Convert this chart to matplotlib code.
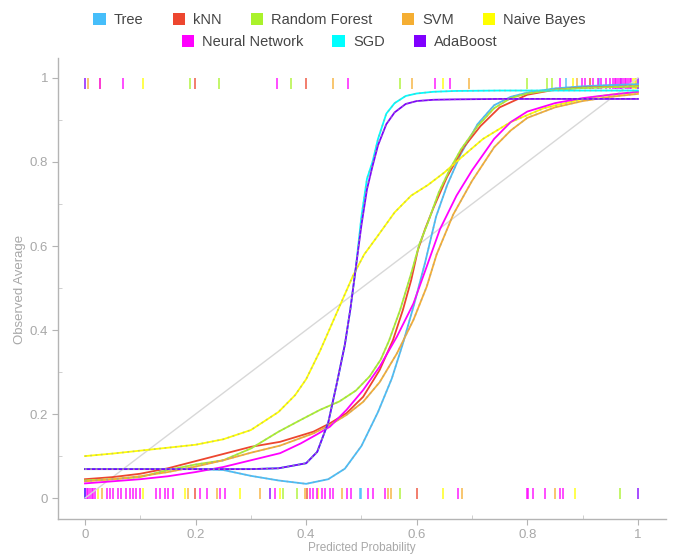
import matplotlib.pyplot as plt
from matplotlib.patches import Patch

plt.rcParams['font.family'] = ['Liberation Sans', 'DejaVu Sans']

# model names and colours
models = ['Tree', 'kNN', 'Random Forest', 'SVM', 'Naive Bayes',
          'Neural Network', 'SGD', 'AdaBoost']
colors = {
    'Tree': '#46befa',
    'kNN': '#ed462f',
    'Random Forest': '#aaf22b',
    'SVM': '#f5ae32',
    'Naive Bayes': '#ffff00',
    'Neural Network': '#ff00ff',
    'SGD': '#00ffff',
    'AdaBoost': '#8000ff',
}

# calibration curves (predicted probability -> observed average)
tree_x = [0, 0.05, 0.1, 0.15, 0.2, 0.25, 0.3, 0.35, 0.4, 0.44, 0.47, 0.5, 0.53, 0.555,
          0.575, 0.595, 0.615, 0.635, 0.655, 0.68, 0.71, 0.74, 0.77, 0.8, 0.85, 0.9, 0.95, 1.0]
tree_y = [0.069, 0.069, 0.069, 0.069, 0.069, 0.067, 0.053, 0.042, 0.034, 0.045, 0.07, 0.124,
          0.205, 0.285, 0.368, 0.46, 0.56, 0.67, 0.745, 0.82, 0.89, 0.935, 0.955, 0.965,
          0.975, 0.98, 0.983, 0.985]

knn_x = [0, 0.05, 0.1, 0.15, 0.2, 0.25, 0.3, 0.353, 0.413, 0.443, 0.473, 0.503, 0.533,
         0.557, 0.575, 0.59, 0.602, 0.615, 0.63, 0.655, 0.685, 0.715, 0.75, 0.8, 0.85, 0.9, 1.0]
knn_y = [0.045, 0.05, 0.058, 0.071, 0.088, 0.105, 0.122, 0.134, 0.158, 0.178, 0.202, 0.241,
         0.305, 0.376, 0.448, 0.519, 0.59, 0.64, 0.69, 0.765, 0.835, 0.885, 0.93, 0.96,
         0.972, 0.977, 0.98]

rf_x = [0, 0.05, 0.1, 0.15, 0.2, 0.25, 0.3, 0.35, 0.39, 0.425, 0.46, 0.49, 0.515, 0.535,
        0.55, 0.57, 0.59, 0.605, 0.62, 0.64, 0.66, 0.68, 0.71, 0.74, 0.77, 0.8, 0.85, 0.9, 1.0]
rf_y = [0.042, 0.045, 0.05, 0.067, 0.08, 0.09, 0.118, 0.158, 0.186, 0.21, 0.23, 0.256, 0.29,
        0.33, 0.375, 0.448, 0.535, 0.605, 0.655, 0.728, 0.783, 0.83, 0.885, 0.928, 0.952,
        0.963, 0.972, 0.976, 0.98]

svm_x = [0, 0.05, 0.1, 0.15, 0.2, 0.25, 0.3, 0.353, 0.413, 0.443, 0.473, 0.503, 0.533,
         0.564, 0.594, 0.618, 0.636, 0.666, 0.7, 0.74, 0.77, 0.8, 0.85, 0.9, 0.95, 1.0]
svm_y = [0.04, 0.045, 0.052, 0.062, 0.075, 0.09, 0.108, 0.125, 0.154, 0.174, 0.198, 0.229,
         0.276, 0.344, 0.424, 0.503, 0.58, 0.675, 0.755, 0.835, 0.875, 0.905, 0.93, 0.945,
         0.955, 0.962]

nb_x = [0, 0.05, 0.1, 0.15, 0.2, 0.25, 0.3, 0.35, 0.38, 0.4, 0.425, 0.445, 0.465, 0.485,
        0.505, 0.53, 0.56, 0.59, 0.62, 0.65, 0.68, 0.72, 0.77, 0.83, 0.9, 0.95, 1.0]
nb_y = [0.100, 0.106, 0.113, 0.12, 0.127, 0.14, 0.162, 0.205, 0.245, 0.283, 0.35, 0.41,
        0.47, 0.53, 0.58, 0.625, 0.68, 0.72, 0.745, 0.775, 0.81, 0.855, 0.895, 0.928,
        0.95, 0.96, 0.966]

nn_x = [0, 0.05, 0.1, 0.15, 0.2, 0.25, 0.3, 0.353, 0.39, 0.42, 0.443, 0.473, 0.503, 0.533,
        0.564, 0.594, 0.618, 0.642, 0.672, 0.7, 0.74, 0.77, 0.8, 0.85, 0.9, 0.95, 1.0]
nn_y = [0.035, 0.04, 0.045, 0.052, 0.062, 0.074, 0.09, 0.107, 0.13, 0.152, 0.17, 0.21,
        0.257, 0.313, 0.384, 0.463, 0.551, 0.64, 0.72, 0.78, 0.855, 0.895, 0.92, 0.94,
        0.952, 0.96, 0.967]

sgd_x = [0, 0.1, 0.2, 0.3, 0.35, 0.4, 0.42, 0.44, 0.455, 0.47, 0.48, 0.49, 0.5, 0.51,
         0.52, 0.53, 0.545, 0.56, 0.58, 0.6, 0.63, 0.67, 0.75, 0.85, 1.0]
sgd_y = [0.069, 0.069, 0.069, 0.069, 0.071, 0.083, 0.11, 0.18, 0.27, 0.365, 0.45, 0.55,
         0.67, 0.76, 0.80, 0.855, 0.915, 0.94, 0.957, 0.963, 0.967, 0.969, 0.97, 0.97, 0.97]

ada_x = [0, 0.1, 0.2, 0.3, 0.35, 0.4, 0.42, 0.44, 0.455, 0.47, 0.48, 0.49, 0.5, 0.51,
         0.52, 0.53, 0.545, 0.56, 0.58, 0.6, 0.63, 0.67, 0.75, 0.85, 1.0]
ada_y = [0.069, 0.069, 0.069, 0.069, 0.071, 0.083, 0.11, 0.18, 0.27, 0.365, 0.45, 0.55,
         0.65, 0.735, 0.79, 0.84, 0.89, 0.918, 0.938, 0.945, 0.948, 0.949, 0.95, 0.95, 0.95]

# predictions for negative (bottom) and positive (top) instances
tree_neg = [0.0, 0.497, 0.50]
knn_neg = [0.199, 0.401, 0.600]
rf_neg = [0.359, 0.383, 0.570, 0.968]
svm_neg = [0.030, 0.187, 0.238, 0.316, 0.398, 0.464, 0.548, 0.554, 0.681, 0.850]
nb_neg = [0.024, 0.105, 0.181, 0.280, 0.352, 0.422, 0.648, 0.886]
nn_neg = [0.0, 0.003, 0.006, 0.009, 0.012, 0.015, 0.018, 0.039, 0.045, 0.051, 0.060,
          0.066, 0.075, 0.081, 0.087, 0.093, 0.099, 0.129, 0.136, 0.145, 0.151, 0.160,
          0.208, 0.220, 0.244, 0.253, 0.344, 0.407, 0.413, 0.419, 0.428, 0.434, 0.443,
          0.449, 0.473, 0.482, 0.512, 0.521, 0.542, 0.675, 0.799, 0.802, 0.811, 0.832,
          0.859, 0.865]
sgd_neg = [0.0]
ada_neg = [0.0, 0.334, 1.0]

tree_pos = [0.87, 0.93, 0.97]
knn_pos = [0.199, 0.400, 0.913]
rf_pos = [0.190, 0.243, 0.373, 0.569, 0.799, 0.835, 0.844]
svm_pos = [0.006, 0.027, 0.449, 0.591, 0.695, 0.889, 0.997]
nb_pos = [0.105, 0.648, 0.883, 0.991, 0.994]
nn_pos = [0.027, 0.069, 0.348, 0.476, 0.633, 0.661, 0.859, 0.898, 0.904, 0.919, 0.928,
          0.934, 0.943, 0.949, 0.955, 0.958, 0.961, 0.964, 0.967, 0.970, 0.973, 0.976,
          0.979, 0.982, 0.985, 0.988]
sgd_pos = []
ada_pos = [0.0, 1.0]

curves = {
    'Tree': (tree_x, tree_y, tree_neg, tree_pos, True),
    'kNN': (knn_x, knn_y, knn_neg, knn_pos, False),
    'Random Forest': (rf_x, rf_y, rf_neg, rf_pos, True),
    'SVM': (svm_x, svm_y, svm_neg, svm_pos, True),
    'Naive Bayes': (nb_x, nb_y, nb_neg, nb_pos, True),
    'Neural Network': (nn_x, nn_y, nn_neg, nn_pos, False),
    'SGD': (sgd_x, sgd_y, sgd_neg, sgd_pos, True),
    'AdaBoost': (ada_x, ada_y, ada_neg, ada_pos, True),
}

fig = plt.figure(figsize=(6.74, 5.57), dpi=100)
ax = fig.add_axes([0.086, 0.068, 0.902, 0.828])

# rugs
for name in models:
    _, _, neg, pos, _ = curves[name]
    if neg:
        ax.vlines(neg, -0.002, 0.024, color=colors[name], lw=1.4, alpha=0.7, zorder=1)
    if pos:
        ax.vlines(pos, 0.974, 1.0, color=colors[name], lw=1.4, alpha=0.7, zorder=1)

# perfect calibration
ax.plot([0, 1], [0, 1], color='#d8d8d8', lw=1, zorder=2)

for name in models:
    xs, ys, _, _, dotted = curves[name]
    ax.plot(xs, ys, color=colors[name], lw=1.3, zorder=3)
    if dotted:
        ax.plot(xs, ys, color='#a0a0a0', lw=1.2, ls=(0, (1, 2.2)), alpha=0.55, zorder=4)

ax.set_xlim(-0.0488, 1.0506)
ax.set_ylim(-0.05, 1.0476)

ax.set_xticks([0, 0.2, 0.4, 0.6, 0.8, 1.0])
ax.set_xticklabels(['0', '0.2', '0.4', '0.6', '0.8', '1'])
ax.set_yticks([0, 0.2, 0.4, 0.6, 0.8, 1.0])
ax.set_yticklabels(['0', '0.2', '0.4', '0.6', '0.8', '1'])
ax.set_xticks([0.1, 0.3, 0.5, 0.7, 0.9], minor=True)
ax.set_yticks([0.1, 0.3, 0.5, 0.7, 0.9], minor=True)

for side in ['top', 'right']:
    ax.spines[side].set_visible(False)
for side in ['left', 'bottom']:
    ax.spines[side].set_color('#b4b4b4')
    ax.spines[side].set_linewidth(1.0)

ax.tick_params(which='major', direction='out', length=4, color='#b4b4b4',
               labelcolor='#a8a8a8', labelsize=9.5, pad=3)
ax.tick_params(which='minor', direction='in', length=3, color='#c8c8c8')

ax.set_xlabel('Predicted Probability', color='#a8a8a8', fontsize=8.5, va='center')
ax.xaxis.set_label_coords(0.5, -0.063)
ax.set_ylabel('Observed Average', color='#a8a8a8', fontsize=9.5, va='center')
ax.yaxis.set_label_coords(-0.0625, 0.497)

# legend in two centred rows
row1 = models[:5]
row2 = models[5:]
h1 = [Patch(facecolor=colors[m], edgecolor='none') for m in row1]
h2 = [Patch(facecolor=colors[m], edgecolor='none') for m in row2]
leg_kw = dict(frameon=False, fontsize=10.5, handlelength=0.85, handleheight=0.85,
              handletextpad=0.55, columnspacing=2.0, borderaxespad=0, labelcolor='#454545')
fig.legend(h1, row1, ncol=5, loc='center', bbox_to_anchor=(0.504, 0.964), **leg_kw)
fig.legend(h2, row2, ncol=3, loc='center', bbox_to_anchor=(0.504, 0.925), **leg_kw)

fig.savefig('out.png', dpi=100)
